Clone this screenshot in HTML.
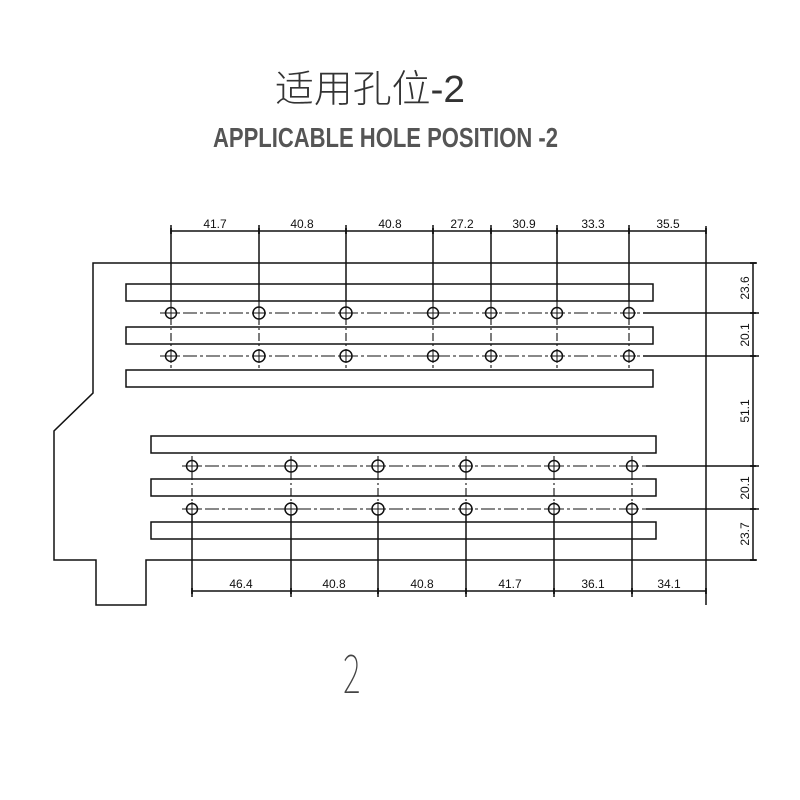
<!DOCTYPE html>
<html><head><meta charset="utf-8">
<style>
html,body{margin:0;padding:0;background:#fff;}
svg{display:block;}
.t{font-family:"Liberation Sans",sans-serif;font-size:12px;fill:#111;}
</style></head>
<body>
<svg width="800" height="800" viewBox="0 0 800 800" xmlns="http://www.w3.org/2000/svg">
<rect width="800" height="800" fill="#fff"/>
<text x="275" y="102" font-family="'Liberation Sans','Noto Sans CJK SC',sans-serif" font-size="38" font-weight="300" fill="#333" textLength="190" lengthAdjust="spacingAndGlyphs">适用孔位-2</text>
<text x="213" y="147" font-family="'Liberation Sans',sans-serif" font-size="28" font-weight="bold" fill="#555" textLength="345" lengthAdjust="spacingAndGlyphs">APPLICABLE HOLE POSITION -2</text>
<text x="0" y="693" transform="translate(343,0) scale(0.62,1)" font-family="'Noto Sans CJK SC',sans-serif" font-size="54" font-weight="100" fill="#444">2</text>

<g stroke="#111" stroke-width="1.5" fill="none">
<polyline points="706,263 93,263 93,393 54,431 54,560 96,560 96,605 146,605 146,560 706,560"/>
<line x1="706" y1="226" x2="706" y2="605"/>
<rect x="126" y="284" width="527" height="17"/>
<rect x="126" y="327" width="527" height="17"/>
<rect x="126" y="370" width="527" height="17"/>
<rect x="151" y="436" width="505" height="17"/>
<rect x="151" y="479" width="505" height="17"/>
<rect x="151" y="522" width="505" height="17"/>
<line x1="171" y1="231" x2="706" y2="231"/>
<line x1="171" y1="225" x2="171" y2="301"/><line x1="259" y1="225" x2="259" y2="301"/>
<line x1="346" y1="225" x2="346" y2="301"/><line x1="433" y1="225" x2="433" y2="301"/>
<line x1="491" y1="225" x2="491" y2="301"/><line x1="557" y1="225" x2="557" y2="301"/>
<line x1="629" y1="225" x2="629" y2="301"/>
<line x1="192" y1="591" x2="706" y2="591"/>
<line x1="192" y1="509" x2="192" y2="597"/><line x1="291" y1="509" x2="291" y2="597"/>
<line x1="378" y1="509" x2="378" y2="597"/><line x1="466" y1="509" x2="466" y2="597"/>
<line x1="554" y1="509" x2="554" y2="597"/><line x1="632" y1="509" x2="632" y2="597"/>
<line x1="753" y1="263" x2="753" y2="560"/>
<line x1="706" y1="263" x2="757" y2="263"/>
<line x1="643" y1="313" x2="759" y2="313"/>
<line x1="643" y1="356" x2="759" y2="356"/>
<line x1="646" y1="466" x2="759" y2="466"/>
<line x1="646" y1="509" x2="759" y2="509"/>
<line x1="706" y1="560" x2="757" y2="560"/>
</g>
<g stroke="#111" stroke-width="1.1" stroke-dasharray="14,3,3,3" fill="none">
<line x1="160" y1="313" x2="643" y2="313"/>
<line x1="160" y1="356" x2="643" y2="356"/>
<line x1="182" y1="466" x2="646" y2="466"/>
<line x1="182" y1="509" x2="646" y2="509"/>
</g>
<g stroke="#111" stroke-width="1.1" stroke-dasharray="8,3,2,3" fill="none">
<line x1="171" y1="301" x2="171" y2="368"/><line x1="259" y1="301" x2="259" y2="368"/>
<line x1="346" y1="301" x2="346" y2="368"/><line x1="433" y1="301" x2="433" y2="368"/>
<line x1="491" y1="301" x2="491" y2="368"/><line x1="557" y1="301" x2="557" y2="368"/>
<line x1="629" y1="301" x2="629" y2="368"/>
<line x1="192" y1="456" x2="192" y2="509"/><line x1="291" y1="456" x2="291" y2="509"/>
<line x1="378" y1="456" x2="378" y2="509"/><line x1="466" y1="456" x2="466" y2="509"/>
<line x1="554" y1="456" x2="554" y2="509"/><line x1="632" y1="456" x2="632" y2="509"/>
</g>
<g stroke="#111" stroke-width="1.5" fill="#fff">
<circle cx="171" cy="313" r="5.5"/><circle cx="259" cy="313" r="6"/><circle cx="346" cy="313" r="6"/><circle cx="433" cy="313" r="5.5"/><circle cx="491" cy="313" r="5.5"/><circle cx="557" cy="313" r="5.5"/><circle cx="629" cy="313" r="5.5"/>
<circle cx="171" cy="356" r="5.5"/><circle cx="259" cy="356" r="6"/><circle cx="346" cy="356" r="6"/><circle cx="433" cy="356" r="5.5"/><circle cx="491" cy="356" r="5.5"/><circle cx="557" cy="356" r="5.5"/><circle cx="629" cy="356" r="5.5"/>
<circle cx="192" cy="466" r="5.5"/><circle cx="291" cy="466" r="6"/><circle cx="378" cy="466" r="6"/><circle cx="466" cy="466" r="6"/><circle cx="554" cy="466" r="5.5"/><circle cx="632" cy="466" r="5.5"/>
<circle cx="192" cy="509" r="5.5"/><circle cx="291" cy="509" r="6"/><circle cx="378" cy="509" r="6"/><circle cx="466" cy="509" r="6"/><circle cx="554" cy="509" r="5.5"/><circle cx="632" cy="509" r="5.5"/>
</g>
<g stroke="#111" stroke-width="1">
<path d="M171,306V320M164,313H178M259,306V320M252,313H266M346,306V320M339,313H353M433,306V320M426,313H440M491,306V320M484,313H498M557,306V320M550,313H564M629,306V320M622,313H636"/>
<path d="M171,349V363M164,356H178M259,349V363M252,356H266M346,349V363M339,356H353M433,349V363M426,356H440M491,349V363M484,356H498M557,349V363M550,356H564M629,349V363M622,356H636"/>
<path d="M192,459V473M185,466H199M291,459V473M284,466H298M378,459V473M371,466H385M466,459V473M459,466H473M554,459V473M547,466H561M632,459V473M625,466H639"/>
<path d="M192,502V516M185,509H199M291,502V516M284,509H298M378,502V516M371,509H385M466,502V516M459,509H473M554,502V516M547,509H561M632,502V516M625,509H639"/>
</g>
<g stroke="#111" stroke-width="1.8">
<path d="M171,228V234M259,228V234M346,228V234M433,228V234M491,228V234M557,228V234M629,228V234M706,228V234"/>
<path d="M192,588V594M291,588V594M378,588V594M466,588V594M554,588V594M632,588V594M706,588V594"/>
<path d="M750,263H756M750,313H756M750,356H756M750,466H756M750,509H756M750,560H756"/>
</g>
<g class="t" text-anchor="middle">
<text x="215" y="228">41.7</text><text x="302" y="228">40.8</text><text x="390" y="228">40.8</text>
<text x="462" y="228">27.2</text><text x="524" y="228">30.9</text><text x="593" y="228">33.3</text><text x="668" y="228">35.5</text>
<text x="241" y="588">46.4</text><text x="334" y="588">40.8</text><text x="422" y="588">40.8</text>
<text x="510" y="588">41.7</text><text x="593" y="588">36.1</text><text x="669" y="588">34.1</text>
<text transform="translate(749,288) rotate(-90)">23.6</text>
<text transform="translate(749,335) rotate(-90)">20.1</text>
<text transform="translate(749,411) rotate(-90)">51.1</text>
<text transform="translate(749,488) rotate(-90)">20.1</text>
<text transform="translate(749,534) rotate(-90)">23.7</text>
</g>
</svg>
</body></html>
